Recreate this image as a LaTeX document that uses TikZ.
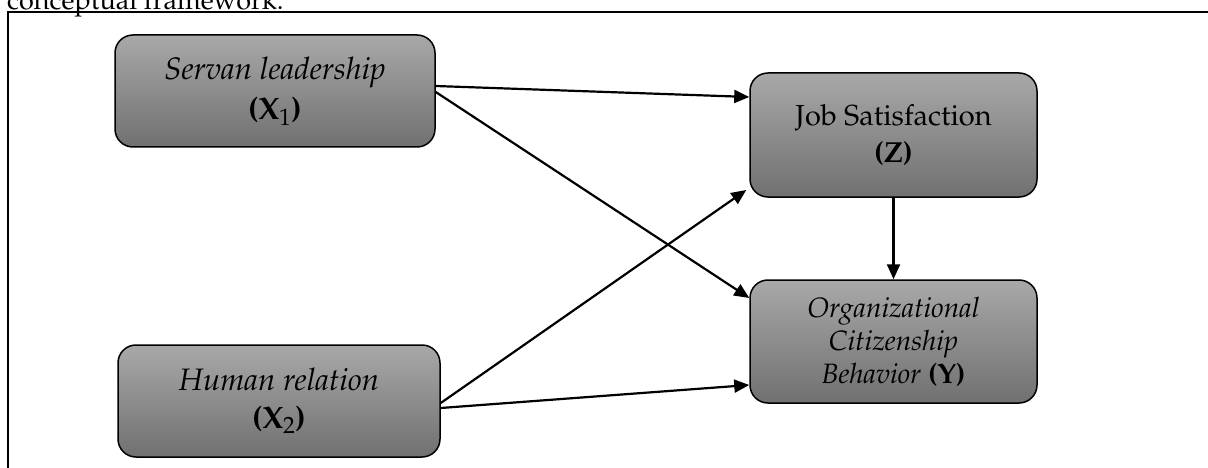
\documentclass[tikz,border=0pt]{standalone}
\usepackage[T1]{fontenc}
\usepackage{mathpazo}
\usetikzlibrary{arrows.meta}

\begin{document}
\begin{tikzpicture}[x=1pt,y=-1pt,
    box/.style={draw=black, line width=1.5pt, rounded corners=18pt,
        top color=black!34, bottom color=black!56, inner sep=0pt,
        align=center, font=\fontsize{29}{37}\selectfont},
    arr/.style={line width=2.2pt, -{Triangle[length=15pt,width=13pt]}}]
    \useasboundingbox (0,0) rectangle (1208,468);
    % frame and caption
    \draw [line width=2.6pt] (8,480) -- (8,12) -- (1220,12);
    \node [anchor=base west, inner sep=0pt, font=\fontsize{27}{30}\selectfont] (cap) at (7,9.5) {conceptual framework.};
    % variables
    \node [box, minimum width=320pt, minimum height=112pt, font=\fontsize{31}{40}\selectfont] (sl) at (275,91) {\textit{Servan leadership}\\\textbf{(X}$_1$\textbf{)}};
    \node [box, minimum width=322pt, minimum height=112pt, font=\fontsize{31}{38}\selectfont] (hr) at (279,401) {\textit{Human relation}\\\textbf{(X}$_2$\textbf{)}};
    \node [box, minimum width=287pt, minimum height=124pt] (js) at (893.5,135) {Job Satisfaction\\\textbf{(Z)}};
    \node [box, minimum width=287pt, minimum height=123pt, font=\fontsize{28}{33}\selectfont] (ocb) at (893.5,341.5) {\textit{Organizational}\\\textit{Citizenship}\\\textit{Behavior} \textbf{(Y)}};
    % paths
    \draw [arr] ([yshift=5pt]sl.east) -- ([yshift=38pt]js.west);
    \draw [arr] ([yshift=-1pt]sl.east) -- ([yshift=43.5pt]ocb.west);
    \draw [arr] ([yshift=-2pt]hr.east) -- ([xshift=-3pt,yshift=-55pt]js.west);
    \draw [arr] ([yshift=-7pt]hr.east) -- ([yshift=-43.5pt]ocb.west);
    \draw [arr] (js.south) -- (ocb.north);
\end{tikzpicture}
\end{document}
